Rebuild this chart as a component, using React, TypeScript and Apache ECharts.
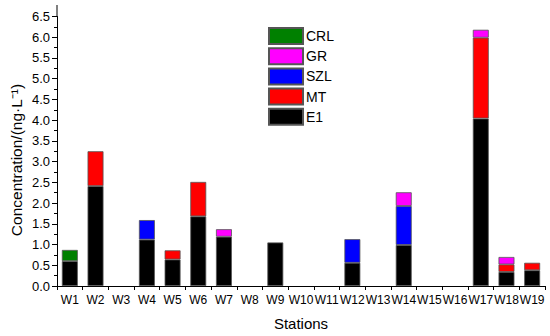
import React, { useEffect, useRef } from "react";
import * as echarts from "echarts";

const categories = ["W1","W2","W3","W4","W5","W6","W7","W8","W9","W10","W11","W12","W13","W14","W15","W16","W17","W18","W19"];
const E1 = [0.6, 2.41, null, 1.12, 0.64, 1.68, 1.19, null, 1.05, null, null, 0.56, null, 0.99, null, null, 4.04, 0.34, 0.38];
const MT = [null, 0.84, null, null, 0.22, 0.83, null, null, null, null, null, null, null, null, null, null, 1.95, 0.18, 0.18];
const SZL = [null, null, null, 0.47, null, null, null, null, null, null, null, 0.57, null, 0.94, null, null, null, null, null];
const GR = [null, null, null, null, null, null, 0.18, null, null, null, null, null, null, 0.33, null, null, 0.19, 0.18, null];
const CRL = [0.27, null, null, null, null, null, null, null, null, null, null, null, null, null, null, null, null, null, null];
const yTicks = { min: 0, max: 6.5, interval: 0.5 };
const yTitle = "Concentration/(ng·L⁻¹)";

const FONT = "Arial, 'Liberation Sans', sans-serif";

export default function App() {
  const ref = useRef<HTMLDivElement>(null);
  useEffect(() => {
    document.body.style.margin = "0";
    const chart = echarts.init(ref.current!, null, { renderer: "svg" });
    const mk = (name: string, data: (number | null)[], color: string) => ({
      name,
      type: "bar",
      stack: "total",
      barWidth: "62%",
      data: data.map((v) => (v == null ? "-" : v)),
      itemStyle: { color, borderColor: "#555", borderWidth: 0.8 },
    });
    chart.setOption({
      animation: false,
      textStyle: { fontFamily: FONT },
      grid: { left: 57, right: 5, top: 16.5, bottom: 50 },
      legend: {
        data: ["CRL", "GR", "SZL", "MT", "E1"],
        orient: "vertical",
        left: 263,
        top: 22,
        padding: 5,
        itemWidth: 34,
        itemHeight: 16,
        itemGap: 2.2,
        icon: "rect",
        textStyle: { fontSize: 14, color: "#000", fontFamily: FONT, lineHeight: 14, padding: [0, 0, 0, -2] },
      },
      xAxis: {
        type: "category",
        data: categories,
        boundaryGap: true,
        name: "Stations",
        nameLocation: "middle",
        nameGap: 30,
        nameTextStyle: { fontSize: 15, color: "#000", fontFamily: FONT },
        axisLine: { lineStyle: { color: "#000", width: 1 } },
        axisTick: { show: true, length: 4, lineStyle: { color: "#000" } },
        axisLabel: { interval: 0, fontSize: 12, color: "#000", margin: 8, fontFamily: FONT },
      },
      yAxis: {
        type: "value",
        min: yTicks.min,
        max: yTicks.max,
        interval: yTicks.interval,
        axisLine: { show: true, lineStyle: { color: "#000", width: 1 } },
        axisTick: { show: true, length: 5, lineStyle: { color: "#000" } },
        minorTick: { show: true, splitNumber: 2, length: 3, lineStyle: { color: "#000" } },
        splitLine: { show: false },
        axisLabel: {
          fontSize: 13,
          color: "#000",
          margin: 7,
          fontFamily: FONT,
          formatter: (v: number) => v.toFixed(1),
        },
      },
      graphic: [
        {
          type: "line",
          shape: { x1: 57, y1: 5, x2: 57, y2: 17 },
          style: { stroke: "#000", lineWidth: 1 },
        },
        {
          type: "text",
          x: 16,
          y: 160,
          rotation: Math.PI / 2,
          style: {
            text: yTitle,
            font: `15.5px ${FONT}`,
            fill: "#000",
            align: "center",
            verticalAlign: "middle",
          },
        },
      ],
      series: [
        mk("E1", E1, "#000000"),
        mk("MT", MT, "#ff0000"),
        mk("SZL", SZL, "#0000ff"),
        mk("GR", GR, "#ff00ff"),
        mk("CRL", CRL, "#008000"),
      ],
    });
    return () => chart.dispose();
  }, []);
  return <div ref={ref} style={{ width: 550, height: 336 }} />;
}
